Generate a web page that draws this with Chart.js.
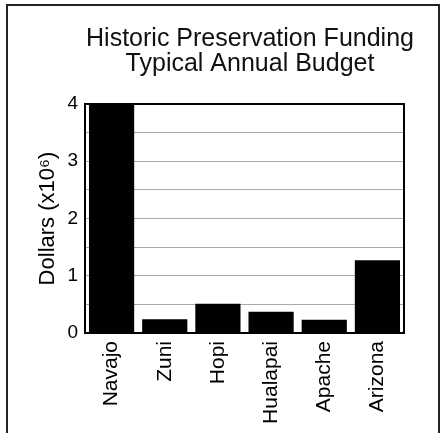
<!DOCTYPE html>
<html>
<head>
<meta charset="utf-8">
<script src="https://cdn.jsdelivr.net/npm/chart.js@4"></script>
<style>
  html, body { margin: 0; padding: 0; background: #fff; overflow: hidden; }
  #wrap { position: relative; width: 440px; height: 433px; overflow: hidden; }
  #frame {
    position: absolute; left: 6px; top: 4px; width: 430px; height: 440px;
    border: 2px solid #222; border-bottom: none;
  }
  #chart { position: absolute; left: 9px; top: 7px; }
</style>
</head>
<body>
<div id="wrap">
  <div id="frame"></div>
  <canvas id="chart" width="482" height="426"></canvas>
</div>
<script>
// Data
const titleLines = ["Historic Preservation Funding", "Typical Annual Budget"];
const yAxisTitle = "Dollars (x10⁶)";
const categories = ["Navajo", "Zuni", "Hopi", "Hualapai", "Apache", "Arizona"];
const budget = [4.0, 0.24, 0.51, 0.37, 0.23, 1.27];
const yMin = 0;
const yMax = 4;
const yStep = 0.5;

const FONT = "'Liberation Sans', Arial, Helvetica, sans-serif";
Chart.defaults.font.family = FONT;
Chart.defaults.color = "#000";

// Black frame around the plot area
const plotFrame = {
  id: "plotFrame",
  afterDatasetsDraw(chart) {
    const { ctx, chartArea: a } = chart;
    ctx.save();
    ctx.strokeStyle = "#000";
    ctx.lineWidth = 2;
    ctx.strokeRect(a.left, a.top, a.right - a.left, a.bottom - a.top);
    ctx.restore();
  },
};

const chart = new Chart(document.getElementById("chart"), {
  type: "bar",
  data: {
    labels: categories,
    datasets: [
      {
        label: "Budget",
        data: budget,
        backgroundColor: "#000",
        borderWidth: 0,
        categoryPercentage: 1.0,
        barPercentage: 0.85,
      },
    ],
  },
  options: {
    responsive: false,
    animation: false,
    layout: { padding: 0 },
    plugins: {
      legend: { display: false },
      tooltip: { enabled: false },
      title: {
        display: true,
        text: titleLines,
        color: "#111",
        font: { size: 25, weight: "normal", lineHeight: 1.0 },
        padding: { top: 20, bottom: 27 },
      },
    },
    scales: {
      x: {
        grid: { display: false, drawTicks: false },
        border: { display: false },
        ticks: {
          maxRotation: 90,
          minRotation: 90,
          autoSkip: false,
          padding: 8,
          font: { size: 21 },
        },
        afterFit: (scale) => { scale.height = 100; },
      },
      y: {
        min: yMin,
        max: yMax,
        grid: { color: "#aaa", lineWidth: 1, drawTicks: false },
        border: { display: false },
        ticks: {
          stepSize: yStep,
          autoSkip: false,
          padding: 7,
          font: { size: 19 },
          callback: (v) => (Number.isInteger(v) ? v : ""),
        },
        title: {
          display: true,
          text: yAxisTitle,
          font: { size: 22 },
          padding: { top: 26, bottom: 0 },
        },
        afterFit: (scale) => { scale.width = 76; },
      },
      // empty right-hand spacer so the title stays centred over the full canvas
      spacer: {
        type: "linear",
        position: "right",
        grid: { display: false, drawTicks: false },
        border: { display: false },
        ticks: { display: false },
        afterFit: (scale) => { scale.width = 87; },
      },
    },
  },
  plugins: [plotFrame],
});
</script>
</body>
</html>
